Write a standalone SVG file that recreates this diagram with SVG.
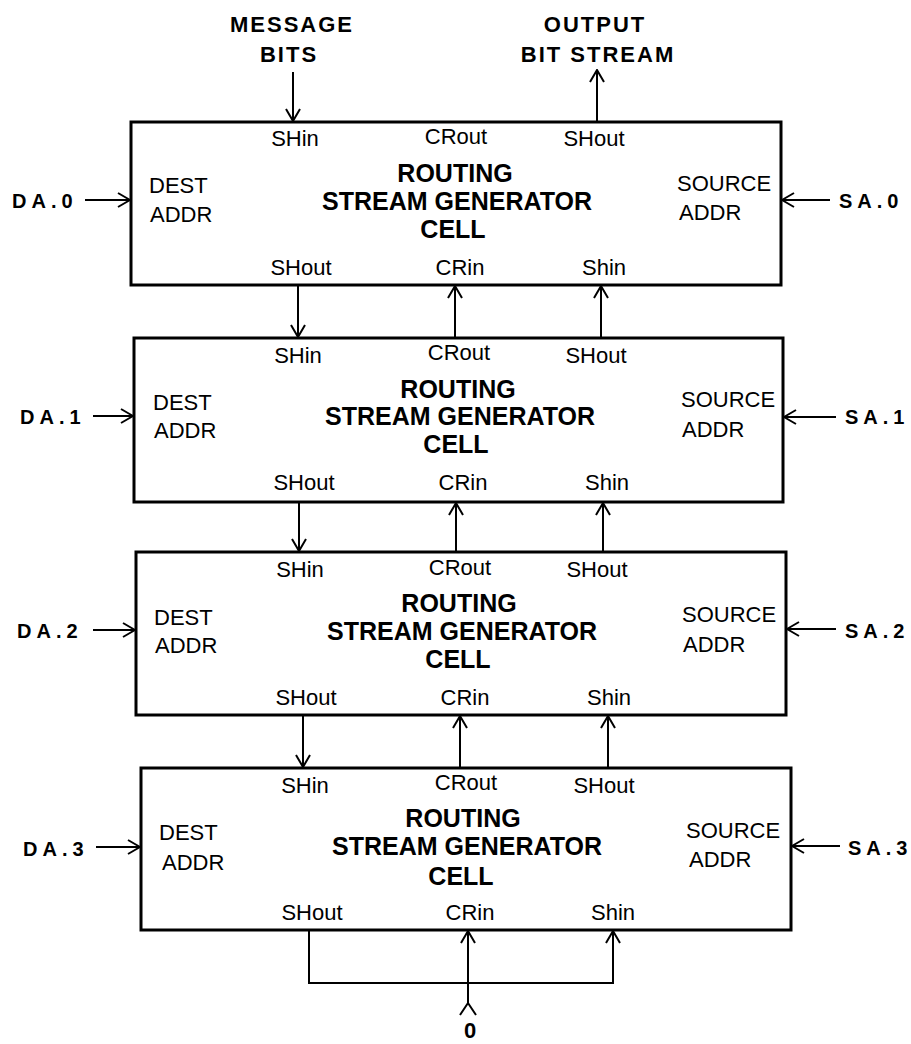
<svg xmlns="http://www.w3.org/2000/svg" width="911" height="1044" viewBox="0 0 911 1044">
<style>
.box{fill:#fff;stroke:#000;stroke-width:3}
.lbl{font-family:"Liberation Sans",Arial,sans-serif;font-size:22px;fill:#000}
.ttl{font-family:"Liberation Sans",Arial,sans-serif;font-size:25px;font-weight:bold;fill:#000;text-anchor:middle}
.ext{font-family:"Liberation Sans",Arial,sans-serif;font-size:20px;font-weight:bold;fill:#000;letter-spacing:5px}
.hdr{font-family:"Liberation Sans",Arial,sans-serif;font-size:22px;font-weight:bold;fill:#000;letter-spacing:2px;text-anchor:middle}
.mid{text-anchor:middle}
.con{fill:none;stroke:#000;stroke-width:2}
</style>
<defs>
<marker id="arr" viewBox="0 0 16 16" refX="15" refY="8" markerWidth="16" markerHeight="16" markerUnits="userSpaceOnUse" orient="auto">
<path d="M3,1 L15,8 L3,15" fill="none" stroke="#000" stroke-width="2"/>
</marker>
</defs>
<rect width="911" height="1044" fill="#fff"/>

<g id="header-message">
<text class="hdr" x="292" y="32">MESSAGE</text>
<text class="hdr" x="289" y="62">BITS</text>
</g>
<g id="header-output">
<text class="hdr" x="595" y="32">OUTPUT</text>
<text class="hdr" x="598" y="62">BIT STREAM</text>
</g>

<g id="cell0">
<rect class="box" x="131" y="122" width="650" height="163"/>
<text class="lbl mid" x="295" y="146">SHin</text>
<text class="lbl mid" x="456" y="144">CRout</text>
<text class="lbl mid" x="594" y="146">SHout</text>
<text class="ttl" x="455" y="182">ROUTING</text>
<text class="ttl" x="457" y="210">STREAM GENERATOR</text>
<text class="ttl" x="453" y="238">CELL</text>
<text class="lbl" x="149" y="193">DEST</text>
<text class="lbl" x="150" y="222">ADDR</text>
<text class="lbl" x="677" y="191">SOURCE</text>
<text class="lbl" x="679" y="220">ADDR</text>
<text class="lbl mid" x="301" y="275">SHout</text>
<text class="lbl mid" x="460" y="275">CRin</text>
<text class="lbl mid" x="604" y="275">Shin</text>
</g>

<g id="cell1">
<rect class="box" x="134" y="338" width="649" height="164"/>
<text class="lbl mid" x="298" y="363">SHin</text>
<text class="lbl mid" x="459" y="360">CRout</text>
<text class="lbl mid" x="596" y="363">SHout</text>
<text class="ttl" x="458" y="398">ROUTING</text>
<text class="ttl" x="460" y="425">STREAM GENERATOR</text>
<text class="ttl" x="456" y="453">CELL</text>
<text class="lbl" x="153" y="410">DEST</text>
<text class="lbl" x="154" y="438">ADDR</text>
<text class="lbl" x="681" y="407">SOURCE</text>
<text class="lbl" x="682" y="437">ADDR</text>
<text class="lbl mid" x="304" y="490">SHout</text>
<text class="lbl mid" x="463" y="490">CRin</text>
<text class="lbl mid" x="607" y="490">Shin</text>
</g>

<g id="cell2">
<rect class="box" x="136" y="552" width="650" height="163"/>
<text class="lbl mid" x="300" y="577">SHin</text>
<text class="lbl mid" x="460" y="575">CRout</text>
<text class="lbl mid" x="597" y="577">SHout</text>
<text class="ttl" x="459" y="612">ROUTING</text>
<text class="ttl" x="462" y="640">STREAM GENERATOR</text>
<text class="ttl" x="458" y="668">CELL</text>
<text class="lbl" x="154" y="625">DEST</text>
<text class="lbl" x="155" y="653">ADDR</text>
<text class="lbl" x="682" y="622">SOURCE</text>
<text class="lbl" x="683" y="652">ADDR</text>
<text class="lbl mid" x="306" y="705">SHout</text>
<text class="lbl mid" x="465" y="705">CRin</text>
<text class="lbl mid" x="609" y="705">Shin</text>
</g>

<g id="cell3">
<rect class="box" x="141" y="768" width="650" height="162"/>
<text class="lbl mid" x="305" y="793">SHin</text>
<text class="lbl mid" x="466" y="790">CRout</text>
<text class="lbl mid" x="604" y="793">SHout</text>
<text class="ttl" x="463" y="827">ROUTING</text>
<text class="ttl" x="467" y="855">STREAM GENERATOR</text>
<text class="ttl" x="461" y="885">CELL</text>
<text class="lbl" x="159" y="840">DEST</text>
<text class="lbl" x="162" y="870">ADDR</text>
<text class="lbl" x="686" y="838">SOURCE</text>
<text class="lbl" x="689" y="867">ADDR</text>
<text class="lbl mid" x="312" y="920">SHout</text>
<text class="lbl mid" x="470" y="920">CRin</text>
<text class="lbl mid" x="613" y="920">Shin</text>
</g>

<g id="inputs">
<text class="ext" x="12" y="208">DA.0</text>
<text class="ext" x="20" y="424">DA.1</text>
<text class="ext" x="17" y="638">DA.2</text>
<text class="ext" x="23" y="856">DA.3</text>
<text class="ext" x="839" y="208">SA.0</text>
<text class="ext" x="845" y="424">SA.1</text>
<text class="ext" x="845" y="638">SA.2</text>
<text class="ext" x="848" y="855">SA.3</text>
<text class="hdr" x="471" y="1038">0</text>
</g>

<g id="connectors">
<line class="con" x1="293" y1="72" x2="293" y2="121" marker-end="url(#arr)"/>
<line class="con" x1="597" y1="122" x2="597" y2="70" marker-end="url(#arr)"/>

<line class="con" x1="298" y1="286" x2="298" y2="337" marker-end="url(#arr)"/>
<line class="con" x1="455" y1="338" x2="455" y2="286" marker-end="url(#arr)"/>
<line class="con" x1="601" y1="338" x2="601" y2="286" marker-end="url(#arr)"/>

<line class="con" x1="299" y1="503" x2="299" y2="551" marker-end="url(#arr)"/>
<line class="con" x1="456" y1="552" x2="456" y2="503" marker-end="url(#arr)"/>
<line class="con" x1="603" y1="552" x2="603" y2="503" marker-end="url(#arr)"/>

<line class="con" x1="303" y1="716" x2="303" y2="767" marker-end="url(#arr)"/>
<line class="con" x1="460" y1="768" x2="460" y2="716" marker-end="url(#arr)"/>
<line class="con" x1="608" y1="768" x2="608" y2="716" marker-end="url(#arr)"/>

<polyline class="con" points="309,931 309,983 613,983 613,931" marker-end="url(#arr)"/>
<line class="con" x1="468" y1="1003" x2="468" y2="931" marker-end="url(#arr)"/>
<polyline class="con" points="460,1015 468,1003 476,1015"/>

<line class="con" x1="85" y1="200" x2="130" y2="200" marker-end="url(#arr)"/>
<line class="con" x1="93" y1="416" x2="133" y2="416" marker-end="url(#arr)"/>
<line class="con" x1="93" y1="630" x2="135" y2="630" marker-end="url(#arr)"/>
<line class="con" x1="96" y1="847" x2="140" y2="847" marker-end="url(#arr)"/>

<line class="con" x1="830" y1="200" x2="782" y2="200" marker-end="url(#arr)"/>
<line class="con" x1="836" y1="417" x2="784" y2="417" marker-end="url(#arr)"/>
<line class="con" x1="836" y1="629" x2="787" y2="629" marker-end="url(#arr)"/>
<line class="con" x1="840" y1="846" x2="792" y2="846" marker-end="url(#arr)"/>
</g>
</svg>
